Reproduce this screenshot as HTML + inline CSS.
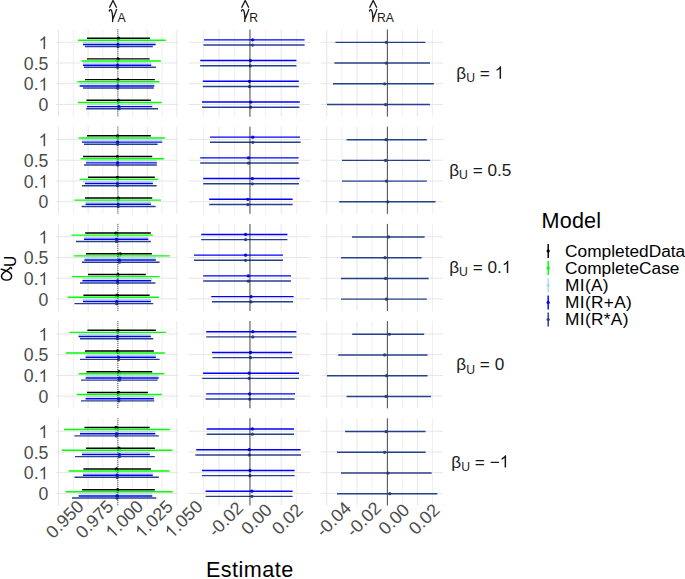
<!DOCTYPE html>
<html><head><meta charset="utf-8"><title>chart</title>
<style>html,body{margin:0;padding:0;background:#fff;}body{width:685px;height:579px;position:relative;overflow:hidden;font-family:"Liberation Sans",sans-serif;}</style>
</head><body>
<svg width="685" height="579" viewBox="0 0 685 579" style="position:absolute;left:0;top:0;font-family:'Liberation Sans',sans-serif">
<rect width="685" height="579" fill="#fff"/>
<line x1="58.50" x2="58.50" y1="29.45" y2="116.65" stroke="#e6e6e6" stroke-width="1.0"/>
<line x1="73.29" x2="73.29" y1="29.45" y2="116.65" stroke="#ececec" stroke-width="0.8"/>
<line x1="88.08" x2="88.08" y1="29.45" y2="116.65" stroke="#e6e6e6" stroke-width="1.0"/>
<line x1="102.87" x2="102.87" y1="29.45" y2="116.65" stroke="#ececec" stroke-width="0.8"/>
<line x1="117.66" x2="117.66" y1="29.45" y2="116.65" stroke="#e6e6e6" stroke-width="1.0"/>
<line x1="132.45" x2="132.45" y1="29.45" y2="116.65" stroke="#ececec" stroke-width="0.8"/>
<line x1="147.24" x2="147.24" y1="29.45" y2="116.65" stroke="#e6e6e6" stroke-width="1.0"/>
<line x1="162.03" x2="162.03" y1="29.45" y2="116.65" stroke="#ececec" stroke-width="0.8"/>
<line x1="176.82" x2="176.82" y1="29.45" y2="116.65" stroke="#e6e6e6" stroke-width="1.0"/>
<line x1="56.00" x2="178.00" y1="42.30" y2="42.30" stroke="#e6e6e6" stroke-width="1.0"/>
<line x1="56.00" x2="178.00" y1="63.03" y2="63.03" stroke="#e6e6e6" stroke-width="1.0"/>
<line x1="56.00" x2="178.00" y1="83.76" y2="83.76" stroke="#e6e6e6" stroke-width="1.0"/>
<line x1="56.00" x2="178.00" y1="104.49" y2="104.49" stroke="#e6e6e6" stroke-width="1.0"/>
<line x1="203.50" x2="203.50" y1="29.45" y2="116.65" stroke="#ececec" stroke-width="0.8"/>
<line x1="219.03" x2="219.03" y1="29.45" y2="116.65" stroke="#e6e6e6" stroke-width="1.0"/>
<line x1="234.56" x2="234.56" y1="29.45" y2="116.65" stroke="#ececec" stroke-width="0.8"/>
<line x1="250.09" x2="250.09" y1="29.45" y2="116.65" stroke="#e6e6e6" stroke-width="1.0"/>
<line x1="265.62" x2="265.62" y1="29.45" y2="116.65" stroke="#ececec" stroke-width="0.8"/>
<line x1="281.15" x2="281.15" y1="29.45" y2="116.65" stroke="#e6e6e6" stroke-width="1.0"/>
<line x1="296.68" x2="296.68" y1="29.45" y2="116.65" stroke="#ececec" stroke-width="0.8"/>
<line x1="188.60" x2="310.60" y1="42.30" y2="42.30" stroke="#e6e6e6" stroke-width="1.0"/>
<line x1="188.60" x2="310.60" y1="63.03" y2="63.03" stroke="#e6e6e6" stroke-width="1.0"/>
<line x1="188.60" x2="310.60" y1="83.76" y2="83.76" stroke="#e6e6e6" stroke-width="1.0"/>
<line x1="188.60" x2="310.60" y1="104.49" y2="104.49" stroke="#e6e6e6" stroke-width="1.0"/>
<line x1="326.80" x2="326.80" y1="29.45" y2="116.65" stroke="#e6e6e6" stroke-width="1.0"/>
<line x1="341.90" x2="341.90" y1="29.45" y2="116.65" stroke="#ececec" stroke-width="0.8"/>
<line x1="357.00" x2="357.00" y1="29.45" y2="116.65" stroke="#e6e6e6" stroke-width="1.0"/>
<line x1="372.10" x2="372.10" y1="29.45" y2="116.65" stroke="#ececec" stroke-width="0.8"/>
<line x1="387.20" x2="387.20" y1="29.45" y2="116.65" stroke="#e6e6e6" stroke-width="1.0"/>
<line x1="402.30" x2="402.30" y1="29.45" y2="116.65" stroke="#ececec" stroke-width="0.8"/>
<line x1="417.40" x2="417.40" y1="29.45" y2="116.65" stroke="#e6e6e6" stroke-width="1.0"/>
<line x1="432.50" x2="432.50" y1="29.45" y2="116.65" stroke="#ececec" stroke-width="0.8"/>
<line x1="320.80" x2="442.80" y1="42.30" y2="42.30" stroke="#e6e6e6" stroke-width="1.0"/>
<line x1="320.80" x2="442.80" y1="63.03" y2="63.03" stroke="#e6e6e6" stroke-width="1.0"/>
<line x1="320.80" x2="442.80" y1="83.76" y2="83.76" stroke="#e6e6e6" stroke-width="1.0"/>
<line x1="320.80" x2="442.80" y1="104.49" y2="104.49" stroke="#e6e6e6" stroke-width="1.0"/>
<line x1="87" x2="149.85" y1="38.15" y2="38.15" stroke="#000000" stroke-width="1.45"/>
<line x1="78" x2="165.85" y1="40.25" y2="40.25" stroke="#00ff00" stroke-width="1.45"/>
<line x1="83" x2="155.25" y1="42.35" y2="42.35" stroke="#add8e6" stroke-width="1.45"/>
<line x1="83" x2="155.65" y1="44.45" y2="44.45" stroke="#0000ff" stroke-width="1.45"/>
<line x1="85" x2="152.85" y1="46.55" y2="46.55" stroke="#27408b" stroke-width="1.45"/>
<line x1="204" x2="304.6" y1="39.85" y2="39.85" stroke="#0000ff" stroke-width="1.45"/>
<line x1="203.4" x2="304.6" y1="45.05" y2="45.05" stroke="#27408b" stroke-width="1.45"/>
<line x1="335.4" x2="425.4" y1="42.35" y2="42.35" stroke="#27408b" stroke-width="1.45"/>
<line x1="87" x2="149.65" y1="58.88" y2="58.88" stroke="#000000" stroke-width="1.45"/>
<line x1="81.6" x2="160.85" y1="60.98" y2="60.98" stroke="#00ff00" stroke-width="1.45"/>
<line x1="83" x2="151.25" y1="63.08" y2="63.08" stroke="#add8e6" stroke-width="1.45"/>
<line x1="83" x2="151.25" y1="65.18" y2="65.18" stroke="#0000ff" stroke-width="1.45"/>
<line x1="84" x2="155.85" y1="67.28" y2="67.28" stroke="#27408b" stroke-width="1.45"/>
<line x1="200.2" x2="296.4" y1="60.58" y2="60.58" stroke="#0000ff" stroke-width="1.45"/>
<line x1="200.2" x2="296.4" y1="65.78" y2="65.78" stroke="#27408b" stroke-width="1.45"/>
<line x1="334.4" x2="430" y1="63.08" y2="63.08" stroke="#27408b" stroke-width="1.45"/>
<line x1="85" x2="154.85" y1="79.61" y2="79.61" stroke="#000000" stroke-width="1.45"/>
<line x1="77.6" x2="159.45" y1="81.71" y2="81.71" stroke="#00ff00" stroke-width="1.45"/>
<line x1="80" x2="154.25" y1="83.81" y2="83.81" stroke="#add8e6" stroke-width="1.45"/>
<line x1="79.6" x2="154.25" y1="85.91" y2="85.91" stroke="#0000ff" stroke-width="1.45"/>
<line x1="83" x2="153.85" y1="88.01" y2="88.01" stroke="#27408b" stroke-width="1.45"/>
<line x1="202.8" x2="298.8" y1="81.31" y2="81.31" stroke="#0000ff" stroke-width="1.45"/>
<line x1="202.8" x2="298.8" y1="86.51" y2="86.51" stroke="#27408b" stroke-width="1.45"/>
<line x1="333" x2="433.8" y1="83.81" y2="83.81" stroke="#27408b" stroke-width="1.45"/>
<line x1="86.4" x2="150.85" y1="100.34" y2="100.34" stroke="#000000" stroke-width="1.45"/>
<line x1="78" x2="161.85" y1="102.44" y2="102.44" stroke="#00ff00" stroke-width="1.45"/>
<line x1="87" x2="152.25" y1="104.54" y2="104.54" stroke="#add8e6" stroke-width="1.45"/>
<line x1="87" x2="152.25" y1="106.64" y2="106.64" stroke="#0000ff" stroke-width="1.45"/>
<line x1="86.2" x2="158.05" y1="108.74" y2="108.74" stroke="#27408b" stroke-width="1.45"/>
<line x1="202" x2="299.8" y1="102.04" y2="102.04" stroke="#0000ff" stroke-width="1.45"/>
<line x1="202" x2="299.4" y1="107.24" y2="107.24" stroke="#27408b" stroke-width="1.45"/>
<line x1="327" x2="430" y1="104.54" y2="104.54" stroke="#27408b" stroke-width="1.45"/>
<circle cx="118.4" cy="38.15" r="1.62" fill="#000000"/>
<circle cx="118.0" cy="40.25" r="1.62" fill="#00ff00"/>
<circle cx="118.0" cy="42.35" r="1.62" fill="#add8e6"/>
<circle cx="118.0" cy="44.45" r="1.62" fill="#0000ff"/>
<circle cx="118.0" cy="46.55" r="1.62" fill="#27408b"/>
<circle cx="252.6" cy="39.85" r="1.62" fill="#0000ff"/>
<circle cx="252.6" cy="45.05" r="1.62" fill="#27408b"/>
<circle cx="386.2" cy="42.35" r="1.62" fill="#27408b"/>
<circle cx="118.0" cy="58.88" r="1.62" fill="#000000"/>
<circle cx="117.6" cy="60.98" r="1.62" fill="#00ff00"/>
<circle cx="117.6" cy="63.08" r="1.62" fill="#add8e6"/>
<circle cx="117.6" cy="65.18" r="1.62" fill="#0000ff"/>
<circle cx="117.6" cy="67.28" r="1.62" fill="#27408b"/>
<circle cx="250.4" cy="60.58" r="1.62" fill="#0000ff"/>
<circle cx="250.4" cy="65.78" r="1.62" fill="#27408b"/>
<circle cx="386.2" cy="63.08" r="1.62" fill="#27408b"/>
<circle cx="118.0" cy="79.61" r="1.62" fill="#000000"/>
<circle cx="117.8" cy="81.71" r="1.62" fill="#00ff00"/>
<circle cx="117.8" cy="83.81" r="1.62" fill="#add8e6"/>
<circle cx="117.8" cy="85.91" r="1.62" fill="#0000ff"/>
<circle cx="117.8" cy="88.01" r="1.62" fill="#27408b"/>
<circle cx="249.4" cy="81.31" r="1.62" fill="#0000ff"/>
<circle cx="249.4" cy="86.51" r="1.62" fill="#27408b"/>
<circle cx="384.6" cy="83.81" r="1.62" fill="#27408b"/>
<circle cx="118.4" cy="100.34" r="1.62" fill="#000000"/>
<circle cx="119.0" cy="102.44" r="1.62" fill="#00ff00"/>
<circle cx="119.0" cy="104.54" r="1.62" fill="#add8e6"/>
<circle cx="119.0" cy="106.64" r="1.62" fill="#0000ff"/>
<circle cx="119.0" cy="108.74" r="1.62" fill="#27408b"/>
<circle cx="250.8" cy="102.04" r="1.62" fill="#0000ff"/>
<circle cx="250.8" cy="107.24" r="1.62" fill="#27408b"/>
<circle cx="385.6" cy="104.54" r="1.62" fill="#27408b"/>
<line x1="117.9" x2="117.9" y1="29.45" y2="116.65" stroke="#000" stroke-width="0.9" stroke-dasharray="0.8 1.2"/>
<line x1="387.4" x2="387.4" y1="29.45" y2="116.65" stroke="#333" stroke-width="0.85"/>
<line x1="249.9" x2="249.9" y1="29.45" y2="116.65" stroke="#000" stroke-opacity="0.45" stroke-width="1.5"/>
<path transform="translate(38.56,49.00) scale(0.00864,-0.00864)" d="M763 0H583V1147Q518 1085 412.5 1023T223 930V1104Q373 1174 485 1275T644 1466H763Z" fill="#4d4d4d"/>
<text x="23.80" y="69.73" font-size="17.7" fill="#4d4d4d">0.5</text>
<text x="23.80" y="90.46" font-size="17.7" fill="#4d4d4d">0.</text><path transform="translate(38.56,90.46) scale(0.00864,-0.00864)" d="M763 0H583V1147Q518 1085 412.5 1023T223 930V1104Q373 1174 485 1275T644 1466H763Z" fill="#4d4d4d"/>
<text x="38.56" y="111.19" font-size="17.7" fill="#4d4d4d">0</text>
<line x1="58.50" x2="58.50" y1="126.67" y2="213.87" stroke="#e6e6e6" stroke-width="1.0"/>
<line x1="73.29" x2="73.29" y1="126.67" y2="213.87" stroke="#ececec" stroke-width="0.8"/>
<line x1="88.08" x2="88.08" y1="126.67" y2="213.87" stroke="#e6e6e6" stroke-width="1.0"/>
<line x1="102.87" x2="102.87" y1="126.67" y2="213.87" stroke="#ececec" stroke-width="0.8"/>
<line x1="117.66" x2="117.66" y1="126.67" y2="213.87" stroke="#e6e6e6" stroke-width="1.0"/>
<line x1="132.45" x2="132.45" y1="126.67" y2="213.87" stroke="#ececec" stroke-width="0.8"/>
<line x1="147.24" x2="147.24" y1="126.67" y2="213.87" stroke="#e6e6e6" stroke-width="1.0"/>
<line x1="162.03" x2="162.03" y1="126.67" y2="213.87" stroke="#ececec" stroke-width="0.8"/>
<line x1="176.82" x2="176.82" y1="126.67" y2="213.87" stroke="#e6e6e6" stroke-width="1.0"/>
<line x1="56.00" x2="178.00" y1="139.52" y2="139.52" stroke="#e6e6e6" stroke-width="1.0"/>
<line x1="56.00" x2="178.00" y1="160.25" y2="160.25" stroke="#e6e6e6" stroke-width="1.0"/>
<line x1="56.00" x2="178.00" y1="180.98" y2="180.98" stroke="#e6e6e6" stroke-width="1.0"/>
<line x1="56.00" x2="178.00" y1="201.71" y2="201.71" stroke="#e6e6e6" stroke-width="1.0"/>
<line x1="203.50" x2="203.50" y1="126.67" y2="213.87" stroke="#ececec" stroke-width="0.8"/>
<line x1="219.03" x2="219.03" y1="126.67" y2="213.87" stroke="#e6e6e6" stroke-width="1.0"/>
<line x1="234.56" x2="234.56" y1="126.67" y2="213.87" stroke="#ececec" stroke-width="0.8"/>
<line x1="250.09" x2="250.09" y1="126.67" y2="213.87" stroke="#e6e6e6" stroke-width="1.0"/>
<line x1="265.62" x2="265.62" y1="126.67" y2="213.87" stroke="#ececec" stroke-width="0.8"/>
<line x1="281.15" x2="281.15" y1="126.67" y2="213.87" stroke="#e6e6e6" stroke-width="1.0"/>
<line x1="296.68" x2="296.68" y1="126.67" y2="213.87" stroke="#ececec" stroke-width="0.8"/>
<line x1="188.60" x2="310.60" y1="139.52" y2="139.52" stroke="#e6e6e6" stroke-width="1.0"/>
<line x1="188.60" x2="310.60" y1="160.25" y2="160.25" stroke="#e6e6e6" stroke-width="1.0"/>
<line x1="188.60" x2="310.60" y1="180.98" y2="180.98" stroke="#e6e6e6" stroke-width="1.0"/>
<line x1="188.60" x2="310.60" y1="201.71" y2="201.71" stroke="#e6e6e6" stroke-width="1.0"/>
<line x1="326.80" x2="326.80" y1="126.67" y2="213.87" stroke="#e6e6e6" stroke-width="1.0"/>
<line x1="341.90" x2="341.90" y1="126.67" y2="213.87" stroke="#ececec" stroke-width="0.8"/>
<line x1="357.00" x2="357.00" y1="126.67" y2="213.87" stroke="#e6e6e6" stroke-width="1.0"/>
<line x1="372.10" x2="372.10" y1="126.67" y2="213.87" stroke="#ececec" stroke-width="0.8"/>
<line x1="387.20" x2="387.20" y1="126.67" y2="213.87" stroke="#e6e6e6" stroke-width="1.0"/>
<line x1="402.30" x2="402.30" y1="126.67" y2="213.87" stroke="#ececec" stroke-width="0.8"/>
<line x1="417.40" x2="417.40" y1="126.67" y2="213.87" stroke="#e6e6e6" stroke-width="1.0"/>
<line x1="432.50" x2="432.50" y1="126.67" y2="213.87" stroke="#ececec" stroke-width="0.8"/>
<line x1="320.80" x2="442.80" y1="139.52" y2="139.52" stroke="#e6e6e6" stroke-width="1.0"/>
<line x1="320.80" x2="442.80" y1="160.25" y2="160.25" stroke="#e6e6e6" stroke-width="1.0"/>
<line x1="320.80" x2="442.80" y1="180.98" y2="180.98" stroke="#e6e6e6" stroke-width="1.0"/>
<line x1="320.80" x2="442.80" y1="201.71" y2="201.71" stroke="#e6e6e6" stroke-width="1.0"/>
<line x1="87" x2="150.85" y1="135.82" y2="135.82" stroke="#000000" stroke-width="1.45"/>
<line x1="78.6" x2="164.85" y1="137.92" y2="137.92" stroke="#00ff00" stroke-width="1.45"/>
<line x1="82" x2="162.25" y1="140.02" y2="140.02" stroke="#add8e6" stroke-width="1.45"/>
<line x1="82" x2="162.25" y1="142.12" y2="142.12" stroke="#0000ff" stroke-width="1.45"/>
<line x1="84" x2="157.65" y1="144.22" y2="144.22" stroke="#27408b" stroke-width="1.45"/>
<line x1="210" x2="300" y1="137.13" y2="137.13" stroke="#0000ff" stroke-width="1.45"/>
<line x1="210" x2="300.6" y1="142.33" y2="142.33" stroke="#27408b" stroke-width="1.45"/>
<line x1="346.6" x2="426.8" y1="139.65" y2="139.65" stroke="#27408b" stroke-width="1.45"/>
<line x1="83" x2="152.25" y1="156.55" y2="156.55" stroke="#000000" stroke-width="1.45"/>
<line x1="80.6" x2="163.85" y1="158.65" y2="158.65" stroke="#00ff00" stroke-width="1.45"/>
<line x1="85.6" x2="156.85" y1="160.75" y2="160.75" stroke="#add8e6" stroke-width="1.45"/>
<line x1="86" x2="156.85" y1="162.85" y2="162.85" stroke="#0000ff" stroke-width="1.45"/>
<line x1="84" x2="156.85" y1="164.95" y2="164.95" stroke="#27408b" stroke-width="1.45"/>
<line x1="200.2" x2="298.6" y1="157.86" y2="157.86" stroke="#0000ff" stroke-width="1.45"/>
<line x1="200.2" x2="298.6" y1="163.06" y2="163.06" stroke="#27408b" stroke-width="1.45"/>
<line x1="342" x2="430" y1="160.38" y2="160.38" stroke="#27408b" stroke-width="1.45"/>
<line x1="88" x2="154.85" y1="177.28" y2="177.28" stroke="#000000" stroke-width="1.45"/>
<line x1="79.6" x2="158.25" y1="179.38" y2="179.38" stroke="#00ff00" stroke-width="1.45"/>
<line x1="83" x2="153.25" y1="181.48" y2="181.48" stroke="#add8e6" stroke-width="1.45"/>
<line x1="85" x2="152.85" y1="183.58" y2="183.58" stroke="#0000ff" stroke-width="1.45"/>
<line x1="82" x2="156.65" y1="185.68" y2="185.68" stroke="#27408b" stroke-width="1.45"/>
<line x1="203.2" x2="299.6" y1="178.59" y2="178.59" stroke="#0000ff" stroke-width="1.45"/>
<line x1="203.2" x2="299" y1="183.79" y2="183.79" stroke="#27408b" stroke-width="1.45"/>
<line x1="342" x2="426.8" y1="181.11" y2="181.11" stroke="#27408b" stroke-width="1.45"/>
<line x1="85" x2="152.25" y1="198.01" y2="198.01" stroke="#000000" stroke-width="1.45"/>
<line x1="74.4" x2="160.85" y1="200.11" y2="200.11" stroke="#00ff00" stroke-width="1.45"/>
<line x1="85.6" x2="150.85" y1="202.21" y2="202.21" stroke="#add8e6" stroke-width="1.45"/>
<line x1="85.6" x2="150.85" y1="204.31" y2="204.31" stroke="#0000ff" stroke-width="1.45"/>
<line x1="81.6" x2="155.65" y1="206.41" y2="206.41" stroke="#27408b" stroke-width="1.45"/>
<line x1="209.2" x2="292.6" y1="199.32" y2="199.32" stroke="#0000ff" stroke-width="1.45"/>
<line x1="209.2" x2="292.6" y1="204.52" y2="204.52" stroke="#27408b" stroke-width="1.45"/>
<line x1="339.2" x2="435.6" y1="201.84" y2="201.84" stroke="#27408b" stroke-width="1.45"/>
<circle cx="117.6" cy="135.82" r="1.62" fill="#000000"/>
<circle cx="117.6" cy="137.92" r="1.62" fill="#00ff00"/>
<circle cx="117.6" cy="140.02" r="1.62" fill="#add8e6"/>
<circle cx="117.6" cy="142.12" r="1.62" fill="#0000ff"/>
<circle cx="117.6" cy="144.22" r="1.62" fill="#27408b"/>
<circle cx="252.8" cy="137.13" r="1.62" fill="#0000ff"/>
<circle cx="252.8" cy="142.33" r="1.62" fill="#27408b"/>
<circle cx="386" cy="139.65" r="1.62" fill="#27408b"/>
<circle cx="117.4" cy="156.55" r="1.62" fill="#000000"/>
<circle cx="117.6" cy="158.65" r="1.62" fill="#00ff00"/>
<circle cx="117.6" cy="160.75" r="1.62" fill="#add8e6"/>
<circle cx="117.6" cy="162.85" r="1.62" fill="#0000ff"/>
<circle cx="117.6" cy="164.95" r="1.62" fill="#27408b"/>
<circle cx="248.4" cy="157.86" r="1.62" fill="#0000ff"/>
<circle cx="248.4" cy="163.06" r="1.62" fill="#27408b"/>
<circle cx="385.6" cy="160.38" r="1.62" fill="#27408b"/>
<circle cx="117.4" cy="177.28" r="1.62" fill="#000000"/>
<circle cx="117.4" cy="179.38" r="1.62" fill="#00ff00"/>
<circle cx="117.4" cy="181.48" r="1.62" fill="#add8e6"/>
<circle cx="117.4" cy="183.58" r="1.62" fill="#0000ff"/>
<circle cx="117.4" cy="185.68" r="1.62" fill="#27408b"/>
<circle cx="252.4" cy="178.59" r="1.62" fill="#0000ff"/>
<circle cx="252.4" cy="183.79" r="1.62" fill="#27408b"/>
<circle cx="386.4" cy="181.11" r="1.62" fill="#27408b"/>
<circle cx="118.6" cy="198.01" r="1.62" fill="#000000"/>
<circle cx="118.2" cy="200.11" r="1.62" fill="#00ff00"/>
<circle cx="118.2" cy="202.21" r="1.62" fill="#add8e6"/>
<circle cx="118.2" cy="204.31" r="1.62" fill="#0000ff"/>
<circle cx="118.2" cy="206.41" r="1.62" fill="#27408b"/>
<circle cx="247.8" cy="199.32" r="1.62" fill="#0000ff"/>
<circle cx="247.8" cy="204.52" r="1.62" fill="#27408b"/>
<circle cx="387.8" cy="201.84" r="1.62" fill="#27408b"/>
<line x1="117.9" x2="117.9" y1="126.67" y2="213.87" stroke="#000" stroke-width="0.9" stroke-dasharray="0.8 1.2"/>
<line x1="387.4" x2="387.4" y1="126.67" y2="213.87" stroke="#333" stroke-width="0.85"/>
<line x1="249.9" x2="249.9" y1="126.67" y2="213.87" stroke="#000" stroke-opacity="0.45" stroke-width="1.5"/>
<path transform="translate(38.56,146.22) scale(0.00864,-0.00864)" d="M763 0H583V1147Q518 1085 412.5 1023T223 930V1104Q373 1174 485 1275T644 1466H763Z" fill="#4d4d4d"/>
<text x="23.80" y="166.95" font-size="17.7" fill="#4d4d4d">0.5</text>
<text x="23.80" y="187.68" font-size="17.7" fill="#4d4d4d">0.</text><path transform="translate(38.56,187.68) scale(0.00864,-0.00864)" d="M763 0H583V1147Q518 1085 412.5 1023T223 930V1104Q373 1174 485 1275T644 1466H763Z" fill="#4d4d4d"/>
<text x="38.56" y="208.41" font-size="17.7" fill="#4d4d4d">0</text>
<line x1="58.50" x2="58.50" y1="223.89" y2="311.09" stroke="#e6e6e6" stroke-width="1.0"/>
<line x1="73.29" x2="73.29" y1="223.89" y2="311.09" stroke="#ececec" stroke-width="0.8"/>
<line x1="88.08" x2="88.08" y1="223.89" y2="311.09" stroke="#e6e6e6" stroke-width="1.0"/>
<line x1="102.87" x2="102.87" y1="223.89" y2="311.09" stroke="#ececec" stroke-width="0.8"/>
<line x1="117.66" x2="117.66" y1="223.89" y2="311.09" stroke="#e6e6e6" stroke-width="1.0"/>
<line x1="132.45" x2="132.45" y1="223.89" y2="311.09" stroke="#ececec" stroke-width="0.8"/>
<line x1="147.24" x2="147.24" y1="223.89" y2="311.09" stroke="#e6e6e6" stroke-width="1.0"/>
<line x1="162.03" x2="162.03" y1="223.89" y2="311.09" stroke="#ececec" stroke-width="0.8"/>
<line x1="176.82" x2="176.82" y1="223.89" y2="311.09" stroke="#e6e6e6" stroke-width="1.0"/>
<line x1="56.00" x2="178.00" y1="236.74" y2="236.74" stroke="#e6e6e6" stroke-width="1.0"/>
<line x1="56.00" x2="178.00" y1="257.47" y2="257.47" stroke="#e6e6e6" stroke-width="1.0"/>
<line x1="56.00" x2="178.00" y1="278.20" y2="278.20" stroke="#e6e6e6" stroke-width="1.0"/>
<line x1="56.00" x2="178.00" y1="298.93" y2="298.93" stroke="#e6e6e6" stroke-width="1.0"/>
<line x1="203.50" x2="203.50" y1="223.89" y2="311.09" stroke="#ececec" stroke-width="0.8"/>
<line x1="219.03" x2="219.03" y1="223.89" y2="311.09" stroke="#e6e6e6" stroke-width="1.0"/>
<line x1="234.56" x2="234.56" y1="223.89" y2="311.09" stroke="#ececec" stroke-width="0.8"/>
<line x1="250.09" x2="250.09" y1="223.89" y2="311.09" stroke="#e6e6e6" stroke-width="1.0"/>
<line x1="265.62" x2="265.62" y1="223.89" y2="311.09" stroke="#ececec" stroke-width="0.8"/>
<line x1="281.15" x2="281.15" y1="223.89" y2="311.09" stroke="#e6e6e6" stroke-width="1.0"/>
<line x1="296.68" x2="296.68" y1="223.89" y2="311.09" stroke="#ececec" stroke-width="0.8"/>
<line x1="188.60" x2="310.60" y1="236.74" y2="236.74" stroke="#e6e6e6" stroke-width="1.0"/>
<line x1="188.60" x2="310.60" y1="257.47" y2="257.47" stroke="#e6e6e6" stroke-width="1.0"/>
<line x1="188.60" x2="310.60" y1="278.20" y2="278.20" stroke="#e6e6e6" stroke-width="1.0"/>
<line x1="188.60" x2="310.60" y1="298.93" y2="298.93" stroke="#e6e6e6" stroke-width="1.0"/>
<line x1="326.80" x2="326.80" y1="223.89" y2="311.09" stroke="#e6e6e6" stroke-width="1.0"/>
<line x1="341.90" x2="341.90" y1="223.89" y2="311.09" stroke="#ececec" stroke-width="0.8"/>
<line x1="357.00" x2="357.00" y1="223.89" y2="311.09" stroke="#e6e6e6" stroke-width="1.0"/>
<line x1="372.10" x2="372.10" y1="223.89" y2="311.09" stroke="#ececec" stroke-width="0.8"/>
<line x1="387.20" x2="387.20" y1="223.89" y2="311.09" stroke="#e6e6e6" stroke-width="1.0"/>
<line x1="402.30" x2="402.30" y1="223.89" y2="311.09" stroke="#ececec" stroke-width="0.8"/>
<line x1="417.40" x2="417.40" y1="223.89" y2="311.09" stroke="#e6e6e6" stroke-width="1.0"/>
<line x1="432.50" x2="432.50" y1="223.89" y2="311.09" stroke="#ececec" stroke-width="0.8"/>
<line x1="320.80" x2="442.80" y1="236.74" y2="236.74" stroke="#e6e6e6" stroke-width="1.0"/>
<line x1="320.80" x2="442.80" y1="257.47" y2="257.47" stroke="#e6e6e6" stroke-width="1.0"/>
<line x1="320.80" x2="442.80" y1="278.20" y2="278.20" stroke="#e6e6e6" stroke-width="1.0"/>
<line x1="320.80" x2="442.80" y1="298.93" y2="298.93" stroke="#e6e6e6" stroke-width="1.0"/>
<line x1="85.2" x2="150.85" y1="233.04" y2="233.04" stroke="#000000" stroke-width="1.45"/>
<line x1="71.4" x2="152.85" y1="235.14" y2="235.14" stroke="#00ff00" stroke-width="1.45"/>
<line x1="84" x2="148.25" y1="237.24" y2="237.24" stroke="#add8e6" stroke-width="1.45"/>
<line x1="84" x2="148.25" y1="239.34" y2="239.34" stroke="#0000ff" stroke-width="1.45"/>
<line x1="76" x2="150.85" y1="241.44" y2="241.44" stroke="#27408b" stroke-width="1.45"/>
<line x1="201.2" x2="287.4" y1="234.41" y2="234.41" stroke="#0000ff" stroke-width="1.45"/>
<line x1="201.2" x2="287.4" y1="239.61" y2="239.61" stroke="#27408b" stroke-width="1.45"/>
<line x1="352" x2="424.6" y1="236.95" y2="236.95" stroke="#27408b" stroke-width="1.45"/>
<line x1="86" x2="151.85" y1="253.77" y2="253.77" stroke="#000000" stroke-width="1.45"/>
<line x1="74" x2="169.65" y1="255.87" y2="255.87" stroke="#00ff00" stroke-width="1.45"/>
<line x1="84.4" x2="155.85" y1="257.97" y2="257.97" stroke="#add8e6" stroke-width="1.45"/>
<line x1="84.4" x2="155.85" y1="260.07" y2="260.07" stroke="#0000ff" stroke-width="1.45"/>
<line x1="82" x2="159.65" y1="262.17" y2="262.17" stroke="#27408b" stroke-width="1.45"/>
<line x1="194" x2="283" y1="255.14" y2="255.14" stroke="#0000ff" stroke-width="1.45"/>
<line x1="194" x2="283" y1="260.34" y2="260.34" stroke="#27408b" stroke-width="1.45"/>
<line x1="341" x2="421.6" y1="257.68" y2="257.68" stroke="#27408b" stroke-width="1.45"/>
<line x1="88" x2="145.85" y1="274.50" y2="274.50" stroke="#000000" stroke-width="1.45"/>
<line x1="72" x2="159.65" y1="276.60" y2="276.60" stroke="#00ff00" stroke-width="1.45"/>
<line x1="82.4" x2="151.85" y1="278.70" y2="278.70" stroke="#add8e6" stroke-width="1.45"/>
<line x1="82.4" x2="151.25" y1="280.80" y2="280.80" stroke="#0000ff" stroke-width="1.45"/>
<line x1="80" x2="155.45" y1="282.90" y2="282.90" stroke="#27408b" stroke-width="1.45"/>
<line x1="203.2" x2="291" y1="275.87" y2="275.87" stroke="#0000ff" stroke-width="1.45"/>
<line x1="203.2" x2="291" y1="281.07" y2="281.07" stroke="#27408b" stroke-width="1.45"/>
<line x1="341" x2="428.6" y1="278.41" y2="278.41" stroke="#27408b" stroke-width="1.45"/>
<line x1="83.4" x2="149.65" y1="295.23" y2="295.23" stroke="#000000" stroke-width="1.45"/>
<line x1="67.6" x2="158.85" y1="297.33" y2="297.33" stroke="#00ff00" stroke-width="1.45"/>
<line x1="83" x2="150.85" y1="299.43" y2="299.43" stroke="#add8e6" stroke-width="1.45"/>
<line x1="83" x2="150.85" y1="301.53" y2="301.53" stroke="#0000ff" stroke-width="1.45"/>
<line x1="74.4" x2="153.25" y1="303.63" y2="303.63" stroke="#27408b" stroke-width="1.45"/>
<line x1="211.2" x2="293.6" y1="296.60" y2="296.60" stroke="#0000ff" stroke-width="1.45"/>
<line x1="212" x2="293" y1="301.80" y2="301.80" stroke="#27408b" stroke-width="1.45"/>
<line x1="341" x2="426.8" y1="299.14" y2="299.14" stroke="#27408b" stroke-width="1.45"/>
<circle cx="116.0" cy="233.04" r="1.62" fill="#000000"/>
<circle cx="116.4" cy="235.14" r="1.62" fill="#00ff00"/>
<circle cx="116.4" cy="237.24" r="1.62" fill="#add8e6"/>
<circle cx="116.4" cy="239.34" r="1.62" fill="#0000ff"/>
<circle cx="116.4" cy="241.44" r="1.62" fill="#27408b"/>
<circle cx="245.6" cy="234.41" r="1.62" fill="#0000ff"/>
<circle cx="245.6" cy="239.61" r="1.62" fill="#27408b"/>
<circle cx="388.6" cy="236.95" r="1.62" fill="#27408b"/>
<circle cx="120.2" cy="253.77" r="1.62" fill="#000000"/>
<circle cx="119.4" cy="255.87" r="1.62" fill="#00ff00"/>
<circle cx="119.4" cy="257.97" r="1.62" fill="#add8e6"/>
<circle cx="119.4" cy="260.07" r="1.62" fill="#0000ff"/>
<circle cx="119.4" cy="262.17" r="1.62" fill="#27408b"/>
<circle cx="245.6" cy="255.14" r="1.62" fill="#0000ff"/>
<circle cx="245.6" cy="260.34" r="1.62" fill="#27408b"/>
<circle cx="385" cy="257.68" r="1.62" fill="#27408b"/>
<circle cx="118.0" cy="274.50" r="1.62" fill="#000000"/>
<circle cx="117.6" cy="276.60" r="1.62" fill="#00ff00"/>
<circle cx="117.6" cy="278.70" r="1.62" fill="#add8e6"/>
<circle cx="117.6" cy="280.80" r="1.62" fill="#0000ff"/>
<circle cx="117.6" cy="282.90" r="1.62" fill="#27408b"/>
<circle cx="248.2" cy="275.87" r="1.62" fill="#0000ff"/>
<circle cx="248.2" cy="281.07" r="1.62" fill="#27408b"/>
<circle cx="385.6" cy="278.41" r="1.62" fill="#27408b"/>
<circle cx="117.2" cy="295.23" r="1.62" fill="#000000"/>
<circle cx="116.6" cy="297.33" r="1.62" fill="#00ff00"/>
<circle cx="116.6" cy="299.43" r="1.62" fill="#add8e6"/>
<circle cx="116.6" cy="301.53" r="1.62" fill="#0000ff"/>
<circle cx="116.6" cy="303.63" r="1.62" fill="#27408b"/>
<circle cx="251.2" cy="296.60" r="1.62" fill="#0000ff"/>
<circle cx="251.2" cy="301.80" r="1.62" fill="#27408b"/>
<circle cx="386.4" cy="299.14" r="1.62" fill="#27408b"/>
<line x1="117.9" x2="117.9" y1="223.89" y2="311.09" stroke="#000" stroke-width="0.9" stroke-dasharray="0.8 1.2"/>
<line x1="387.4" x2="387.4" y1="223.89" y2="311.09" stroke="#333" stroke-width="0.85"/>
<line x1="249.9" x2="249.9" y1="223.89" y2="311.09" stroke="#000" stroke-opacity="0.45" stroke-width="1.5"/>
<path transform="translate(38.56,243.44) scale(0.00864,-0.00864)" d="M763 0H583V1147Q518 1085 412.5 1023T223 930V1104Q373 1174 485 1275T644 1466H763Z" fill="#4d4d4d"/>
<text x="23.80" y="264.17" font-size="17.7" fill="#4d4d4d">0.5</text>
<text x="23.80" y="284.90" font-size="17.7" fill="#4d4d4d">0.</text><path transform="translate(38.56,284.90) scale(0.00864,-0.00864)" d="M763 0H583V1147Q518 1085 412.5 1023T223 930V1104Q373 1174 485 1275T644 1466H763Z" fill="#4d4d4d"/>
<text x="38.56" y="305.63" font-size="17.7" fill="#4d4d4d">0</text>
<line x1="58.50" x2="58.50" y1="321.11" y2="408.31" stroke="#e6e6e6" stroke-width="1.0"/>
<line x1="73.29" x2="73.29" y1="321.11" y2="408.31" stroke="#ececec" stroke-width="0.8"/>
<line x1="88.08" x2="88.08" y1="321.11" y2="408.31" stroke="#e6e6e6" stroke-width="1.0"/>
<line x1="102.87" x2="102.87" y1="321.11" y2="408.31" stroke="#ececec" stroke-width="0.8"/>
<line x1="117.66" x2="117.66" y1="321.11" y2="408.31" stroke="#e6e6e6" stroke-width="1.0"/>
<line x1="132.45" x2="132.45" y1="321.11" y2="408.31" stroke="#ececec" stroke-width="0.8"/>
<line x1="147.24" x2="147.24" y1="321.11" y2="408.31" stroke="#e6e6e6" stroke-width="1.0"/>
<line x1="162.03" x2="162.03" y1="321.11" y2="408.31" stroke="#ececec" stroke-width="0.8"/>
<line x1="176.82" x2="176.82" y1="321.11" y2="408.31" stroke="#e6e6e6" stroke-width="1.0"/>
<line x1="56.00" x2="178.00" y1="333.96" y2="333.96" stroke="#e6e6e6" stroke-width="1.0"/>
<line x1="56.00" x2="178.00" y1="354.69" y2="354.69" stroke="#e6e6e6" stroke-width="1.0"/>
<line x1="56.00" x2="178.00" y1="375.42" y2="375.42" stroke="#e6e6e6" stroke-width="1.0"/>
<line x1="56.00" x2="178.00" y1="396.15" y2="396.15" stroke="#e6e6e6" stroke-width="1.0"/>
<line x1="203.50" x2="203.50" y1="321.11" y2="408.31" stroke="#ececec" stroke-width="0.8"/>
<line x1="219.03" x2="219.03" y1="321.11" y2="408.31" stroke="#e6e6e6" stroke-width="1.0"/>
<line x1="234.56" x2="234.56" y1="321.11" y2="408.31" stroke="#ececec" stroke-width="0.8"/>
<line x1="250.09" x2="250.09" y1="321.11" y2="408.31" stroke="#e6e6e6" stroke-width="1.0"/>
<line x1="265.62" x2="265.62" y1="321.11" y2="408.31" stroke="#ececec" stroke-width="0.8"/>
<line x1="281.15" x2="281.15" y1="321.11" y2="408.31" stroke="#e6e6e6" stroke-width="1.0"/>
<line x1="296.68" x2="296.68" y1="321.11" y2="408.31" stroke="#ececec" stroke-width="0.8"/>
<line x1="188.60" x2="310.60" y1="333.96" y2="333.96" stroke="#e6e6e6" stroke-width="1.0"/>
<line x1="188.60" x2="310.60" y1="354.69" y2="354.69" stroke="#e6e6e6" stroke-width="1.0"/>
<line x1="188.60" x2="310.60" y1="375.42" y2="375.42" stroke="#e6e6e6" stroke-width="1.0"/>
<line x1="188.60" x2="310.60" y1="396.15" y2="396.15" stroke="#e6e6e6" stroke-width="1.0"/>
<line x1="326.80" x2="326.80" y1="321.11" y2="408.31" stroke="#e6e6e6" stroke-width="1.0"/>
<line x1="341.90" x2="341.90" y1="321.11" y2="408.31" stroke="#ececec" stroke-width="0.8"/>
<line x1="357.00" x2="357.00" y1="321.11" y2="408.31" stroke="#e6e6e6" stroke-width="1.0"/>
<line x1="372.10" x2="372.10" y1="321.11" y2="408.31" stroke="#ececec" stroke-width="0.8"/>
<line x1="387.20" x2="387.20" y1="321.11" y2="408.31" stroke="#e6e6e6" stroke-width="1.0"/>
<line x1="402.30" x2="402.30" y1="321.11" y2="408.31" stroke="#ececec" stroke-width="0.8"/>
<line x1="417.40" x2="417.40" y1="321.11" y2="408.31" stroke="#e6e6e6" stroke-width="1.0"/>
<line x1="432.50" x2="432.50" y1="321.11" y2="408.31" stroke="#ececec" stroke-width="0.8"/>
<line x1="320.80" x2="442.80" y1="333.96" y2="333.96" stroke="#e6e6e6" stroke-width="1.0"/>
<line x1="320.80" x2="442.80" y1="354.69" y2="354.69" stroke="#e6e6e6" stroke-width="1.0"/>
<line x1="320.80" x2="442.80" y1="375.42" y2="375.42" stroke="#e6e6e6" stroke-width="1.0"/>
<line x1="320.80" x2="442.80" y1="396.15" y2="396.15" stroke="#e6e6e6" stroke-width="1.0"/>
<line x1="87.4" x2="155.85" y1="330.26" y2="330.26" stroke="#000000" stroke-width="1.45"/>
<line x1="69.6" x2="165.85" y1="332.36" y2="332.36" stroke="#00ff00" stroke-width="1.45"/>
<line x1="78.6" x2="150.85" y1="334.46" y2="334.46" stroke="#add8e6" stroke-width="1.45"/>
<line x1="78.6" x2="150.85" y1="336.56" y2="336.56" stroke="#0000ff" stroke-width="1.45"/>
<line x1="80" x2="153.25" y1="338.66" y2="338.66" stroke="#27408b" stroke-width="1.45"/>
<line x1="206.2" x2="296.4" y1="331.69" y2="331.69" stroke="#0000ff" stroke-width="1.45"/>
<line x1="206.2" x2="296.4" y1="336.89" y2="336.89" stroke="#27408b" stroke-width="1.45"/>
<line x1="352.2" x2="424.2" y1="334.25" y2="334.25" stroke="#27408b" stroke-width="1.45"/>
<line x1="85" x2="153.85" y1="350.99" y2="350.99" stroke="#000000" stroke-width="1.45"/>
<line x1="66" x2="164.85" y1="353.09" y2="353.09" stroke="#00ff00" stroke-width="1.45"/>
<line x1="85.6" x2="155.85" y1="355.19" y2="355.19" stroke="#add8e6" stroke-width="1.45"/>
<line x1="85.6" x2="155.85" y1="357.29" y2="357.29" stroke="#0000ff" stroke-width="1.45"/>
<line x1="80" x2="159.65" y1="359.39" y2="359.39" stroke="#27408b" stroke-width="1.45"/>
<line x1="212" x2="292" y1="352.42" y2="352.42" stroke="#0000ff" stroke-width="1.45"/>
<line x1="212.4" x2="292.6" y1="357.62" y2="357.62" stroke="#27408b" stroke-width="1.45"/>
<line x1="338.2" x2="427.6" y1="354.98" y2="354.98" stroke="#27408b" stroke-width="1.45"/>
<line x1="86.4" x2="152.25" y1="371.72" y2="371.72" stroke="#000000" stroke-width="1.45"/>
<line x1="78.6" x2="164.25" y1="373.82" y2="373.82" stroke="#00ff00" stroke-width="1.45"/>
<line x1="85.6" x2="158.65" y1="375.92" y2="375.92" stroke="#add8e6" stroke-width="1.45"/>
<line x1="85.6" x2="158.65" y1="378.02" y2="378.02" stroke="#0000ff" stroke-width="1.45"/>
<line x1="81" x2="157.65" y1="380.12" y2="380.12" stroke="#27408b" stroke-width="1.45"/>
<line x1="203" x2="299" y1="373.15" y2="373.15" stroke="#0000ff" stroke-width="1.45"/>
<line x1="202.2" x2="299" y1="378.35" y2="378.35" stroke="#27408b" stroke-width="1.45"/>
<line x1="327" x2="427.6" y1="375.71" y2="375.71" stroke="#27408b" stroke-width="1.45"/>
<line x1="87" x2="147.85" y1="392.45" y2="392.45" stroke="#000000" stroke-width="1.45"/>
<line x1="77" x2="161.85" y1="394.55" y2="394.55" stroke="#00ff00" stroke-width="1.45"/>
<line x1="85.6" x2="153.85" y1="396.65" y2="396.65" stroke="#add8e6" stroke-width="1.45"/>
<line x1="85.6" x2="153.85" y1="398.75" y2="398.75" stroke="#0000ff" stroke-width="1.45"/>
<line x1="81" x2="154.25" y1="400.85" y2="400.85" stroke="#27408b" stroke-width="1.45"/>
<line x1="206.2" x2="295" y1="393.88" y2="393.88" stroke="#0000ff" stroke-width="1.45"/>
<line x1="205.6" x2="294.6" y1="399.08" y2="399.08" stroke="#27408b" stroke-width="1.45"/>
<line x1="346.6" x2="431" y1="396.44" y2="396.44" stroke="#27408b" stroke-width="1.45"/>
<circle cx="118.0" cy="330.26" r="1.62" fill="#000000"/>
<circle cx="117.4" cy="332.36" r="1.62" fill="#00ff00"/>
<circle cx="117.4" cy="334.46" r="1.62" fill="#add8e6"/>
<circle cx="117.4" cy="336.56" r="1.62" fill="#0000ff"/>
<circle cx="117.4" cy="338.66" r="1.62" fill="#27408b"/>
<circle cx="252.8" cy="331.69" r="1.62" fill="#0000ff"/>
<circle cx="252.8" cy="336.89" r="1.62" fill="#27408b"/>
<circle cx="389.4" cy="334.25" r="1.62" fill="#27408b"/>
<circle cx="117.6" cy="350.99" r="1.62" fill="#000000"/>
<circle cx="118.6" cy="353.09" r="1.62" fill="#00ff00"/>
<circle cx="118.6" cy="355.19" r="1.62" fill="#add8e6"/>
<circle cx="118.6" cy="357.29" r="1.62" fill="#0000ff"/>
<circle cx="118.6" cy="359.39" r="1.62" fill="#27408b"/>
<circle cx="250.6" cy="352.42" r="1.62" fill="#0000ff"/>
<circle cx="250.6" cy="357.62" r="1.62" fill="#27408b"/>
<circle cx="384.6" cy="354.98" r="1.62" fill="#27408b"/>
<circle cx="119.0" cy="371.72" r="1.62" fill="#000000"/>
<circle cx="119.6" cy="373.82" r="1.62" fill="#00ff00"/>
<circle cx="119.6" cy="375.92" r="1.62" fill="#add8e6"/>
<circle cx="119.6" cy="378.02" r="1.62" fill="#0000ff"/>
<circle cx="119.6" cy="380.12" r="1.62" fill="#27408b"/>
<circle cx="249" cy="373.15" r="1.62" fill="#0000ff"/>
<circle cx="249" cy="378.35" r="1.62" fill="#27408b"/>
<circle cx="386.6" cy="375.71" r="1.62" fill="#27408b"/>
<circle cx="118.6" cy="392.45" r="1.62" fill="#000000"/>
<circle cx="119.0" cy="394.55" r="1.62" fill="#00ff00"/>
<circle cx="119.0" cy="396.65" r="1.62" fill="#add8e6"/>
<circle cx="119.0" cy="398.75" r="1.62" fill="#0000ff"/>
<circle cx="119.0" cy="400.85" r="1.62" fill="#27408b"/>
<circle cx="249.6" cy="393.88" r="1.62" fill="#0000ff"/>
<circle cx="249.6" cy="399.08" r="1.62" fill="#27408b"/>
<circle cx="386" cy="396.44" r="1.62" fill="#27408b"/>
<line x1="117.9" x2="117.9" y1="321.11" y2="408.31" stroke="#000" stroke-width="0.9" stroke-dasharray="0.8 1.2"/>
<line x1="387.4" x2="387.4" y1="321.11" y2="408.31" stroke="#333" stroke-width="0.85"/>
<line x1="249.9" x2="249.9" y1="321.11" y2="408.31" stroke="#000" stroke-opacity="0.45" stroke-width="1.5"/>
<path transform="translate(38.56,340.66) scale(0.00864,-0.00864)" d="M763 0H583V1147Q518 1085 412.5 1023T223 930V1104Q373 1174 485 1275T644 1466H763Z" fill="#4d4d4d"/>
<text x="23.80" y="361.39" font-size="17.7" fill="#4d4d4d">0.5</text>
<text x="23.80" y="382.12" font-size="17.7" fill="#4d4d4d">0.</text><path transform="translate(38.56,382.12) scale(0.00864,-0.00864)" d="M763 0H583V1147Q518 1085 412.5 1023T223 930V1104Q373 1174 485 1275T644 1466H763Z" fill="#4d4d4d"/>
<text x="38.56" y="402.85" font-size="17.7" fill="#4d4d4d">0</text>
<line x1="58.50" x2="58.50" y1="418.33" y2="505.53" stroke="#e6e6e6" stroke-width="1.0"/>
<line x1="73.29" x2="73.29" y1="418.33" y2="505.53" stroke="#ececec" stroke-width="0.8"/>
<line x1="88.08" x2="88.08" y1="418.33" y2="505.53" stroke="#e6e6e6" stroke-width="1.0"/>
<line x1="102.87" x2="102.87" y1="418.33" y2="505.53" stroke="#ececec" stroke-width="0.8"/>
<line x1="117.66" x2="117.66" y1="418.33" y2="505.53" stroke="#e6e6e6" stroke-width="1.0"/>
<line x1="132.45" x2="132.45" y1="418.33" y2="505.53" stroke="#ececec" stroke-width="0.8"/>
<line x1="147.24" x2="147.24" y1="418.33" y2="505.53" stroke="#e6e6e6" stroke-width="1.0"/>
<line x1="162.03" x2="162.03" y1="418.33" y2="505.53" stroke="#ececec" stroke-width="0.8"/>
<line x1="176.82" x2="176.82" y1="418.33" y2="505.53" stroke="#e6e6e6" stroke-width="1.0"/>
<line x1="56.00" x2="178.00" y1="431.18" y2="431.18" stroke="#e6e6e6" stroke-width="1.0"/>
<line x1="56.00" x2="178.00" y1="451.91" y2="451.91" stroke="#e6e6e6" stroke-width="1.0"/>
<line x1="56.00" x2="178.00" y1="472.64" y2="472.64" stroke="#e6e6e6" stroke-width="1.0"/>
<line x1="56.00" x2="178.00" y1="493.37" y2="493.37" stroke="#e6e6e6" stroke-width="1.0"/>
<line x1="203.50" x2="203.50" y1="418.33" y2="505.53" stroke="#ececec" stroke-width="0.8"/>
<line x1="219.03" x2="219.03" y1="418.33" y2="505.53" stroke="#e6e6e6" stroke-width="1.0"/>
<line x1="234.56" x2="234.56" y1="418.33" y2="505.53" stroke="#ececec" stroke-width="0.8"/>
<line x1="250.09" x2="250.09" y1="418.33" y2="505.53" stroke="#e6e6e6" stroke-width="1.0"/>
<line x1="265.62" x2="265.62" y1="418.33" y2="505.53" stroke="#ececec" stroke-width="0.8"/>
<line x1="281.15" x2="281.15" y1="418.33" y2="505.53" stroke="#e6e6e6" stroke-width="1.0"/>
<line x1="296.68" x2="296.68" y1="418.33" y2="505.53" stroke="#ececec" stroke-width="0.8"/>
<line x1="188.60" x2="310.60" y1="431.18" y2="431.18" stroke="#e6e6e6" stroke-width="1.0"/>
<line x1="188.60" x2="310.60" y1="451.91" y2="451.91" stroke="#e6e6e6" stroke-width="1.0"/>
<line x1="188.60" x2="310.60" y1="472.64" y2="472.64" stroke="#e6e6e6" stroke-width="1.0"/>
<line x1="188.60" x2="310.60" y1="493.37" y2="493.37" stroke="#e6e6e6" stroke-width="1.0"/>
<line x1="326.80" x2="326.80" y1="418.33" y2="505.53" stroke="#e6e6e6" stroke-width="1.0"/>
<line x1="341.90" x2="341.90" y1="418.33" y2="505.53" stroke="#ececec" stroke-width="0.8"/>
<line x1="357.00" x2="357.00" y1="418.33" y2="505.53" stroke="#e6e6e6" stroke-width="1.0"/>
<line x1="372.10" x2="372.10" y1="418.33" y2="505.53" stroke="#ececec" stroke-width="0.8"/>
<line x1="387.20" x2="387.20" y1="418.33" y2="505.53" stroke="#e6e6e6" stroke-width="1.0"/>
<line x1="402.30" x2="402.30" y1="418.33" y2="505.53" stroke="#ececec" stroke-width="0.8"/>
<line x1="417.40" x2="417.40" y1="418.33" y2="505.53" stroke="#e6e6e6" stroke-width="1.0"/>
<line x1="432.50" x2="432.50" y1="418.33" y2="505.53" stroke="#ececec" stroke-width="0.8"/>
<line x1="320.80" x2="442.80" y1="431.18" y2="431.18" stroke="#e6e6e6" stroke-width="1.0"/>
<line x1="320.80" x2="442.80" y1="451.91" y2="451.91" stroke="#e6e6e6" stroke-width="1.0"/>
<line x1="320.80" x2="442.80" y1="472.64" y2="472.64" stroke="#e6e6e6" stroke-width="1.0"/>
<line x1="320.80" x2="442.80" y1="493.37" y2="493.37" stroke="#e6e6e6" stroke-width="1.0"/>
<line x1="84.4" x2="149.65" y1="427.48" y2="427.48" stroke="#000000" stroke-width="1.45"/>
<line x1="64" x2="169.85" y1="429.58" y2="429.58" stroke="#00ff00" stroke-width="1.45"/>
<line x1="80" x2="155.25" y1="431.68" y2="431.68" stroke="#add8e6" stroke-width="1.45"/>
<line x1="80" x2="155.25" y1="433.78" y2="433.78" stroke="#0000ff" stroke-width="1.45"/>
<line x1="74.4" x2="158.85" y1="435.88" y2="435.88" stroke="#27408b" stroke-width="1.45"/>
<line x1="206.6" x2="294" y1="428.97" y2="428.97" stroke="#0000ff" stroke-width="1.45"/>
<line x1="206.6" x2="294" y1="434.17" y2="434.17" stroke="#27408b" stroke-width="1.45"/>
<line x1="345" x2="425.6" y1="431.55" y2="431.55" stroke="#27408b" stroke-width="1.45"/>
<line x1="86" x2="154.85" y1="448.21" y2="448.21" stroke="#000000" stroke-width="1.45"/>
<line x1="62" x2="172.25" y1="450.31" y2="450.31" stroke="#00ff00" stroke-width="1.45"/>
<line x1="82" x2="149.85" y1="452.41" y2="452.41" stroke="#add8e6" stroke-width="1.45"/>
<line x1="82" x2="149.85" y1="454.51" y2="454.51" stroke="#0000ff" stroke-width="1.45"/>
<line x1="75" x2="154.85" y1="456.61" y2="456.61" stroke="#27408b" stroke-width="1.45"/>
<line x1="196.2" x2="300.6" y1="449.70" y2="449.70" stroke="#0000ff" stroke-width="1.45"/>
<line x1="195.4" x2="301" y1="454.90" y2="454.90" stroke="#27408b" stroke-width="1.45"/>
<line x1="337" x2="425.6" y1="452.28" y2="452.28" stroke="#27408b" stroke-width="1.45"/>
<line x1="83.4" x2="150.85" y1="468.94" y2="468.94" stroke="#000000" stroke-width="1.45"/>
<line x1="68.6" x2="169.65" y1="471.04" y2="471.04" stroke="#00ff00" stroke-width="1.45"/>
<line x1="83" x2="152.85" y1="473.14" y2="473.14" stroke="#add8e6" stroke-width="1.45"/>
<line x1="83" x2="152.85" y1="475.24" y2="475.24" stroke="#0000ff" stroke-width="1.45"/>
<line x1="74.4" x2="158.85" y1="477.34" y2="477.34" stroke="#27408b" stroke-width="1.45"/>
<line x1="202" x2="294.6" y1="470.43" y2="470.43" stroke="#0000ff" stroke-width="1.45"/>
<line x1="202" x2="294.6" y1="475.63" y2="475.63" stroke="#27408b" stroke-width="1.45"/>
<line x1="341" x2="431.6" y1="473.01" y2="473.01" stroke="#27408b" stroke-width="1.45"/>
<line x1="82" x2="154.85" y1="489.67" y2="489.67" stroke="#000000" stroke-width="1.45"/>
<line x1="65.6" x2="172.65" y1="491.77" y2="491.77" stroke="#00ff00" stroke-width="1.45"/>
<line x1="78.6" x2="152.25" y1="493.87" y2="493.87" stroke="#add8e6" stroke-width="1.45"/>
<line x1="78.6" x2="152.25" y1="495.97" y2="495.97" stroke="#0000ff" stroke-width="1.45"/>
<line x1="72" x2="156.25" y1="498.07" y2="498.07" stroke="#27408b" stroke-width="1.45"/>
<line x1="205.6" x2="292.6" y1="491.16" y2="491.16" stroke="#0000ff" stroke-width="1.45"/>
<line x1="205.6" x2="292.6" y1="496.36" y2="496.36" stroke="#27408b" stroke-width="1.45"/>
<line x1="337" x2="437.4" y1="493.74" y2="493.74" stroke="#27408b" stroke-width="1.45"/>
<circle cx="116.0" cy="427.48" r="1.62" fill="#000000"/>
<circle cx="116.4" cy="429.58" r="1.62" fill="#00ff00"/>
<circle cx="116.4" cy="431.68" r="1.62" fill="#add8e6"/>
<circle cx="116.4" cy="433.78" r="1.62" fill="#0000ff"/>
<circle cx="116.4" cy="435.88" r="1.62" fill="#27408b"/>
<circle cx="252.4" cy="428.97" r="1.62" fill="#0000ff"/>
<circle cx="252.4" cy="434.17" r="1.62" fill="#27408b"/>
<circle cx="386" cy="431.55" r="1.62" fill="#27408b"/>
<circle cx="119.0" cy="448.21" r="1.62" fill="#000000"/>
<circle cx="119.4" cy="450.31" r="1.62" fill="#00ff00"/>
<circle cx="119.4" cy="452.41" r="1.62" fill="#add8e6"/>
<circle cx="119.4" cy="454.51" r="1.62" fill="#0000ff"/>
<circle cx="119.4" cy="456.61" r="1.62" fill="#27408b"/>
<circle cx="249.2" cy="449.70" r="1.62" fill="#0000ff"/>
<circle cx="249.2" cy="454.90" r="1.62" fill="#27408b"/>
<circle cx="384.6" cy="452.28" r="1.62" fill="#27408b"/>
<circle cx="116.6" cy="468.94" r="1.62" fill="#000000"/>
<circle cx="117.0" cy="471.04" r="1.62" fill="#00ff00"/>
<circle cx="117.0" cy="473.14" r="1.62" fill="#add8e6"/>
<circle cx="117.0" cy="475.24" r="1.62" fill="#0000ff"/>
<circle cx="117.0" cy="477.34" r="1.62" fill="#27408b"/>
<circle cx="250" cy="470.43" r="1.62" fill="#0000ff"/>
<circle cx="250" cy="475.63" r="1.62" fill="#27408b"/>
<circle cx="388" cy="473.01" r="1.62" fill="#27408b"/>
<circle cx="117.6" cy="489.67" r="1.62" fill="#000000"/>
<circle cx="117.0" cy="491.77" r="1.62" fill="#00ff00"/>
<circle cx="117.0" cy="493.87" r="1.62" fill="#add8e6"/>
<circle cx="117.0" cy="495.97" r="1.62" fill="#0000ff"/>
<circle cx="117.0" cy="498.07" r="1.62" fill="#27408b"/>
<circle cx="252" cy="491.16" r="1.62" fill="#0000ff"/>
<circle cx="252" cy="496.36" r="1.62" fill="#27408b"/>
<circle cx="389.8" cy="493.74" r="1.62" fill="#27408b"/>
<line x1="117.9" x2="117.9" y1="418.33" y2="505.53" stroke="#000" stroke-width="0.9" stroke-dasharray="0.8 1.2"/>
<line x1="387.4" x2="387.4" y1="418.33" y2="505.53" stroke="#333" stroke-width="0.85"/>
<line x1="249.9" x2="249.9" y1="418.33" y2="505.53" stroke="#000" stroke-opacity="0.45" stroke-width="1.5"/>
<path transform="translate(38.56,437.88) scale(0.00864,-0.00864)" d="M763 0H583V1147Q518 1085 412.5 1023T223 930V1104Q373 1174 485 1275T644 1466H763Z" fill="#4d4d4d"/>
<text x="23.80" y="458.61" font-size="17.7" fill="#4d4d4d">0.5</text>
<text x="23.80" y="479.34" font-size="17.7" fill="#4d4d4d">0.</text><path transform="translate(38.56,479.34) scale(0.00864,-0.00864)" d="M763 0H583V1147Q518 1085 412.5 1023T223 930V1104Q373 1174 485 1275T644 1466H763Z" fill="#4d4d4d"/>
<text x="38.56" y="500.07" font-size="17.7" fill="#4d4d4d">0</text>
<text x="456.36" y="78.65" font-size="17.2" fill="#1a1a1a">&#946;<tspan font-size="12.2" dy="3.4">U</tspan></text>
<text x="479.85" y="78.65" font-size="17.2" fill="#1a1a1a">=</text><path transform="translate(494.67,78.65) scale(0.00840,-0.00840)" d="M763 0H583V1147Q518 1085 412.5 1023T223 930V1104Q373 1174 485 1275T644 1466H763Z" fill="#1a1a1a"/>
<text x="449.19" y="175.87" font-size="17.2" fill="#1a1a1a">&#946;<tspan font-size="12.2" dy="3.4">U</tspan></text>
<text x="472.68" y="175.87" font-size="17.2" fill="#1a1a1a">=</text><text x="487.50" y="175.87" font-size="17.2" fill="#1a1a1a">0.5</text>
<text x="449.19" y="273.09" font-size="17.2" fill="#1a1a1a">&#946;<tspan font-size="12.2" dy="3.4">U</tspan></text>
<text x="472.68" y="273.09" font-size="17.2" fill="#1a1a1a">=</text><text x="487.50" y="273.09" font-size="17.2" fill="#1a1a1a">0.</text><path transform="translate(501.85,273.09) scale(0.00840,-0.00840)" d="M763 0H583V1147Q518 1085 412.5 1023T223 930V1104Q373 1174 485 1275T644 1466H763Z" fill="#1a1a1a"/>
<text x="456.36" y="370.31" font-size="17.2" fill="#1a1a1a">&#946;<tspan font-size="12.2" dy="3.4">U</tspan></text>
<text x="479.85" y="370.31" font-size="17.2" fill="#1a1a1a">=</text><text x="494.67" y="370.31" font-size="17.2" fill="#1a1a1a">0</text>
<text x="451.34" y="467.53" font-size="17.2" fill="#1a1a1a">&#946;<tspan font-size="12.2" dy="3.4">U</tspan></text>
<text x="474.83" y="467.53" font-size="17.2" fill="#1a1a1a">=</text><text x="489.65" y="467.53" font-size="17.2" fill="#1a1a1a">−</text><path transform="translate(499.70,467.53) scale(0.00840,-0.00840)" d="M763 0H583V1147Q518 1085 412.5 1023T223 930V1104Q373 1174 485 1275T644 1466H763Z" fill="#1a1a1a"/>
<path transform="translate(0.00,0)" d="M109.3,11 C109.6,9.6 110.8,9.2 111.4,10.3 C112.1,11.8 112.6,15 112.7,18.6 L112.6,21.5 M116.6,9.4 C115.6,12.6 114,16.2 112.8,19.2" fill="none" stroke="#1a1a1a" stroke-width="1.35" stroke-linecap="round" stroke-linejoin="round"/>
<text x="117.40" y="21.8" font-size="12.2" fill="#1a1a1a">A</text>
<polyline points="109.40,7.8 113.00,0.5 116.60,7.8" fill="none" stroke="#1a1a1a" stroke-width="1.35" stroke-linejoin="miter"/>
<path transform="translate(132.20,0)" d="M109.3,11 C109.6,9.6 110.8,9.2 111.4,10.3 C112.1,11.8 112.6,15 112.7,18.6 L112.6,21.5 M116.6,9.4 C115.6,12.6 114,16.2 112.8,19.2" fill="none" stroke="#1a1a1a" stroke-width="1.35" stroke-linecap="round" stroke-linejoin="round"/>
<text x="249.30" y="21.8" font-size="12.2" fill="#1a1a1a">R</text>
<polyline points="241.60,7.8 245.20,0.5 248.80,7.8" fill="none" stroke="#1a1a1a" stroke-width="1.35" stroke-linejoin="miter"/>
<path transform="translate(260.20,0)" d="M109.3,11 C109.6,9.6 110.8,9.2 111.4,10.3 C112.1,11.8 112.6,15 112.7,18.6 L112.6,21.5 M116.6,9.4 C115.6,12.6 114,16.2 112.8,19.2" fill="none" stroke="#1a1a1a" stroke-width="1.35" stroke-linecap="round" stroke-linejoin="round"/>
<text x="377.00" y="21.8" font-size="12.2" fill="#1a1a1a">RA</text>
<polyline points="369.60,7.8 373.20,0.5 376.80,7.8" fill="none" stroke="#1a1a1a" stroke-width="1.35" stroke-linejoin="miter"/>
<g transform="translate(60.00,514.5) rotate(-45)"><text x="-22.39" y="12.80" font-size="17.9" fill="#4d4d4d">0.950</text></g>
<g transform="translate(89.70,514.5) rotate(-45)"><text x="-22.39" y="12.80" font-size="17.9" fill="#4d4d4d">0.975</text></g>
<g transform="translate(119.40,514.5) rotate(-45)"><path transform="translate(-22.39,12.80) scale(0.00874,-0.00874)" d="M763 0H583V1147Q518 1085 412.5 1023T223 930V1104Q373 1174 485 1275T644 1466H763Z" fill="#4d4d4d"/><text x="-12.44" y="12.80" font-size="17.9" fill="#4d4d4d">.000</text></g>
<g transform="translate(149.10,514.5) rotate(-45)"><path transform="translate(-22.39,12.80) scale(0.00874,-0.00874)" d="M763 0H583V1147Q518 1085 412.5 1023T223 930V1104Q373 1174 485 1275T644 1466H763Z" fill="#4d4d4d"/><text x="-12.44" y="12.80" font-size="17.9" fill="#4d4d4d">.025</text></g>
<g transform="translate(178.80,514.5) rotate(-45)"><path transform="translate(-22.39,12.80) scale(0.00874,-0.00874)" d="M763 0H583V1147Q518 1085 412.5 1023T223 930V1104Q373 1174 485 1275T644 1466H763Z" fill="#4d4d4d"/><text x="-12.44" y="12.80" font-size="17.9" fill="#4d4d4d">.050</text></g>
<g transform="translate(220.75,514.5) rotate(-45)"><text x="-20.40" y="12.80" font-size="17.9" fill="#4d4d4d">-0.02</text></g>
<g transform="translate(251.65,514.5) rotate(-45)"><text x="-17.42" y="12.80" font-size="17.9" fill="#4d4d4d">0.00</text></g>
<g transform="translate(282.55,514.5) rotate(-45)"><text x="-17.42" y="12.80" font-size="17.9" fill="#4d4d4d">0.02</text></g>
<g transform="translate(328.70,514.5) rotate(-45)"><text x="-20.40" y="12.80" font-size="17.9" fill="#4d4d4d">-0.04</text></g>
<g transform="translate(358.90,514.5) rotate(-45)"><text x="-20.40" y="12.80" font-size="17.9" fill="#4d4d4d">-0.02</text></g>
<g transform="translate(389.10,514.5) rotate(-45)"><text x="-17.42" y="12.80" font-size="17.9" fill="#4d4d4d">0.00</text></g>
<g transform="translate(419.30,514.5) rotate(-45)"><text x="-17.42" y="12.80" font-size="17.9" fill="#4d4d4d">0.02</text></g>
<text x="249.8" y="577.2" font-size="21.6" letter-spacing="0.45" fill="#000" text-anchor="middle">Estimate</text>
<path d="M1.2,269.2 C4,269.9 11.6,271.6 11.6,276 C11.6,278.6 9.5,280.1 6.6,280.1 C3.6,280.1 1.5,278.5 1.5,276 C1.5,272.2 8.3,270.6 9.9,267.9 C10.4,267.1 11.3,267.4 11.6,268.6" fill="none" stroke="#000" stroke-width="1.45" stroke-linecap="round"/>
<text transform="translate(16.4,261.4) rotate(-90)" x="0" y="0" font-size="15.6" fill="#000" text-anchor="middle">U</text>
<text x="541.6" y="227.6" font-size="21.6" letter-spacing="0.15" fill="#000">Model</text>
<line x1="548.2" x2="548.2" y1="243.95" y2="257.95" stroke="#000000" stroke-width="1.45"/>
<circle cx="548.2" cy="250.95" r="1.62" fill="#000000"/>
<text x="565.1" y="256.75" font-size="17.3" fill="#000">CompletedData</text>
<line x1="548.2" x2="548.2" y1="261.10" y2="275.10" stroke="#00ff00" stroke-width="1.45"/>
<circle cx="548.2" cy="268.10" r="1.62" fill="#00ff00"/>
<text x="565.1" y="273.90" font-size="17.3" fill="#000">CompleteCase</text>
<line x1="548.2" x2="548.2" y1="278.25" y2="292.25" stroke="#add8e6" stroke-width="1.45"/>
<circle cx="548.2" cy="285.25" r="1.62" fill="#add8e6"/>
<text x="565.1" y="291.05" font-size="17.3" fill="#000" letter-spacing="0.32">MI(A)</text>
<line x1="548.2" x2="548.2" y1="295.40" y2="309.40" stroke="#0000ff" stroke-width="1.45"/>
<circle cx="548.2" cy="302.40" r="1.62" fill="#0000ff"/>
<text x="565.1" y="308.20" font-size="17.3" fill="#000" letter-spacing="0.32">MI(R+A)</text>
<line x1="548.2" x2="548.2" y1="312.50" y2="326.50" stroke="#27408b" stroke-width="1.45"/>
<circle cx="548.2" cy="319.50" r="1.62" fill="#27408b"/>
<text x="565.1" y="325.30" font-size="17.3" fill="#000" letter-spacing="0.32">MI(R*A)</text>
</svg>
</body></html>
